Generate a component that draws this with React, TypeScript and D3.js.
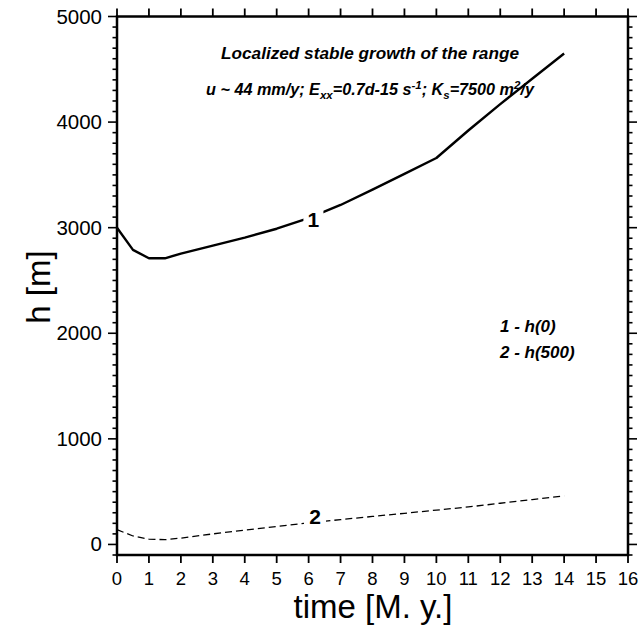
import React from "react";
import * as d3 from "d3";

// Model time steps (M. y.)
const times = [0, 0.5, 1, 1.5, 2, 3, 4, 5, 6, 7, 8, 9, 10, 11, 12, 13, 14];
// Curve 1: h(0), elevation at the range axis (m)
const h0 = [3000, 2790, 2710, 2710, 2755, 2830, 2905, 2990, 3090, 3215, 3360, 3510, 3660, 3920, 4170, 4410, 4650];
// Curve 2: h(500), elevation 500 km from the axis (m)
const h500 = [140, 80, 50, 45, 60, 100, 135, 170, 205, 235, 265, 295, 325, 355, 390, 425, 460];

const xTicks = d3.range(0, 17, 1);
const yMajorTicks = [0, 1000, 2000, 3000, 4000, 5000];
const yMinorTicks = d3.range(-100, 5001, 100);
const legendLines = ["1 - h(0)", "2 - h(500)"];

const W = 643;
const H = 631;
const FONT = "'Liberation Sans', Arial, Helvetica, sans-serif";

export default function App() {
  const x = d3.scaleLinear().domain([0, 16]).range([117, 628]);
  const y = d3.scaleLinear().domain([-100, 5000]).range([555, 16.5]);

  const line = d3
    .line<number>()
    .x((_, i) => x(times[i]))
    .y((d) => y(d));

  const label1 = { t: 6.15, v: 3080 };
  const label2 = { t: 6.2, v: 268 };

  return (
    <svg
      width={W}
      height={H}
      style={{ position: "absolute", left: 0, top: 0, background: "#fff" }}
      fontFamily={FONT}
    >
      <rect x={0} y={0} width={W} height={H} fill="#fff" />

      {/* curves */}
      <path d={line(h0) || ""} fill="none" stroke="#000" strokeWidth={2.4} strokeLinejoin="round" />
      <path
        d={line(h500) || ""}
        fill="none"
        stroke="#000"
        strokeWidth={1.3}
        strokeDasharray="7,4"
      />

      {/* curve labels */}
      <rect x={x(label1.t) - 10} y={y(label1.v) - 11} width={20} height={22} fill="#fff" />
      <text
        x={x(label1.t)}
        y={y(label1.v) + 7.5}
        textAnchor="middle"
        fontSize={21}
        fontWeight="bold"
      >
        1
      </text>
      <rect x={x(label2.t) - 11} y={y(label2.v) - 11} width={22} height={22} fill="#fff" />
      <text
        x={x(label2.t)}
        y={y(label2.v) + 7.5}
        textAnchor="middle"
        fontSize={21}
        fontWeight="bold"
      >
        2
      </text>

      {/* frame */}
      <rect
        x={x(0)}
        y={y(5000)}
        width={x(16) - x(0)}
        height={y(-100) - y(5000)}
        fill="none"
        stroke="#000"
        strokeWidth={2.5}
      />

      {/* x ticks: bottom and top */}
      {xTicks.map((t) => (
        <g key={`xt${t}`}>
          <line x1={x(t)} x2={x(t)} y1={y(-100)} y2={y(-100) + 8} stroke="#000" strokeWidth={1.8} />
          <line x1={x(t)} x2={x(t)} y1={y(5000)} y2={y(5000) - 8} stroke="#000" strokeWidth={1.8} />
          <text x={x(t)} y={y(-100) + 30} textAnchor="middle" fontSize={18.5}>
            {t}
          </text>
        </g>
      ))}

      {/* y ticks: left and right */}
      {yMinorTicks.map((v) => {
        const major = v % 1000 === 0;
        const len = major ? 9 : 4.5;
        return (
          <g key={`yt${v}`}>
            <line x1={x(0) - len} x2={x(0)} y1={y(v)} y2={y(v)} stroke="#000" strokeWidth={1.6} />
            <line x1={x(16)} x2={x(16) + len} y1={y(v)} y2={y(v)} stroke="#000" strokeWidth={1.6} />
          </g>
        );
      })}
      {yMajorTicks.map((v) => (
        <text key={`yl${v}`} x={x(0) - 15} y={y(v) + 7} textAnchor="end" fontSize={20.5}>
          {v}
        </text>
      ))}

      {/* axis titles */}
      <text x={373} y={618} textAnchor="middle" fontSize={33}>
        time [M. y.]
      </text>
      <text
        transform={`translate(50, 287) rotate(-90)`}
        textAnchor="middle"
        fontSize={33}
      >
        h [m]
      </text>

      {/* heading */}
      <text
        x={370}
        y={59}
        textAnchor="middle"
        fontSize={17.2}
        fontWeight="bold"
        fontStyle="italic"
      >
        Localized stable growth of the range
      </text>
      <text
        x={370}
        y={95}
        textAnchor="middle"
        fontSize={16.2}
        fontWeight="bold"
        fontStyle="italic"
      >
        <tspan>u ~ 44 mm/y; E</tspan>
        <tspan fontSize={11.5} dy={4}>xx</tspan>
        <tspan dy={-4}>=0.7d-15 s</tspan>
        <tspan fontSize={11.5} dy={-6}>-1</tspan>
        <tspan dy={6}>; K</tspan>
        <tspan fontSize={11.5} dy={4}>s</tspan>
        <tspan dy={-4}>=7500 m</tspan>
        <tspan fontSize={11.5} dy={-6}>2</tspan>
        <tspan dy={6}>/y</tspan>
      </text>

      {/* legend */}
      {legendLines.map((s, i) => (
        <text
          key={s}
          x={500}
          y={332 + i * 26}
          fontSize={17}
          fontWeight="bold"
          fontStyle="italic"
        >
          {s}
        </text>
      ))}
    </svg>
  );
}
